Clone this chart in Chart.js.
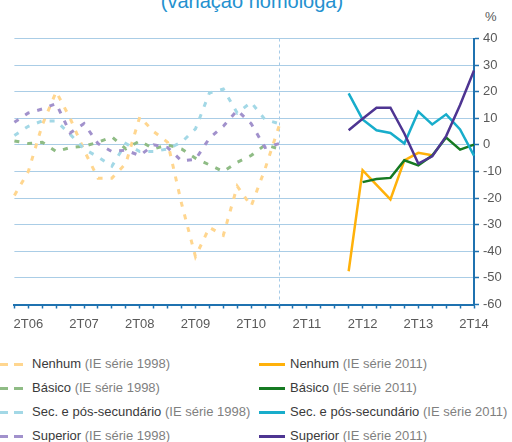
<!DOCTYPE html>
<html><head><meta charset="utf-8">
<script src="https://cdn.jsdelivr.net/npm/chart.js@4.4.1/dist/chart.umd.min.js"></script>
<style>
html,body{margin:0;padding:0;background:#fff;}
body{width:512px;height:442px;position:relative;overflow:hidden;font-family:'Liberation Sans',Arial,sans-serif;}
#title{position:absolute;left:0;width:504px;text-align:center;top:-9px;font-size:20px;line-height:20px;color:#2491CF;white-space:nowrap;}
#pct{position:absolute;left:485px;top:9px;font-size:13px;line-height:15px;color:#595959;}
#wrap{position:absolute;left:0;top:0;width:512px;height:330px;}
.item{position:absolute;height:16px;font-size:13px;line-height:16px;white-space:nowrap;}
.item svg{position:absolute;left:0;top:0;}
.item .t{position:absolute;top:0;}
.main{color:#3a3a3a}.sub{color:#7f7f7f}
</style></head>
<body>
<div id="title">(variação homóloga)</div>
<div id="pct">%</div>
<div id="wrap"><canvas id="c" width="512" height="330"></canvas></div>
<div id="legend"></div>
<script>
// ---- data ----
const quarters = ['1T06','2T06','3T06','4T06','1T07','2T07','3T07','4T07','1T08','2T08','3T08','4T08',
  '1T09','2T09','3T09','4T09','1T10','2T10','3T10','4T10','1T11','2T11','3T11','4T11',
  '1T12','2T12','3T12','4T12','1T13','2T13','3T13','4T13','1T14','2T14'];
const shownLabels = ['2T06','2T07','2T08','2T09','2T10','2T11','2T12','2T13','2T14'];
const dividerAt = '4T10';
const yTicks = [40,30,20,10,0,-10,-20,-30,-40,-50,-60];

// série 1998: 1T06 .. 4T10
const nenhum98   = [-19,-10,7.5,20,10,-2,-12.5,-12.5,-7,10.5,5,1,-22,-42,-31,-34,-15.5,-23,-9,7];
const basico98   = [1.5,0.5,1,-2.5,-1,-0.5,1,3,-1.5,1.5,-1.5,0,-1.5,-5,-7.5,-10,-6.5,-4,0,-1.5];
const sec98      = [3.5,7,9,9,4,-1.5,-4.5,-8,0.5,-2.5,-2.5,-1.5,1,6,19.5,21,12,16,9.5,8];
const superior98 = [8.5,12,13.5,15.5,4.5,8,0.5,-2.5,-2,-4,0,-1,-6,-5.5,2.5,7,13,8,-1,0.5];
// série 2011: 1T12 .. 2T14
const nenhum11   = [-47.5,-9.5,-15,-20.5,-5.8,-3,-3.9];
const basico11   = [null,-14,-12.8,-12.4,-5.8,-7.7,-4,2.8,-1.8,0.1];
const sec11      = [19.4,9.6,5.5,4.5,0.5,12.5,7.7,11.5,5.8,-4];
const superior11 = [5.5,9.8,14,14,4.3,-7,-4.3,3.3,15,28];

const names = ['Nenhum','Básico','Sec. e pós-secundário','Superior'];
const colors98 = ['#FFD68F','#8FBC85','#A3D8E6','#A191CC'];
const colors11 = ['#FFB10A','#167A22','#18ADCB','#4E3592'];

const start11 = quarters.indexOf('1T12');
const pad98 = a => a.concat(Array(quarters.length - a.length).fill(null));
const pad11 = a => Array(start11).fill(null).concat(a);
const s98 = [nenhum98, basico98, sec98, superior98];
const s11 = [nenhum11, basico11, sec11, superior11];

const FONT = "'Liberation Sans', Arial, sans-serif";
const AXIS = '#1F72B0';
const datasets = [];
for (let i = 3; i >= 0; i--) {
  datasets.push({label: names[i]+' (IE série 2011)', data: pad11(s11[i]), borderColor: colors11[i],
    borderWidth: 2.5, pointRadius: 0, tension: 0, fill: false, spanGaps: false, order: 3 - i});
}
for (let i = 3; i >= 0; i--) {
  datasets.push({label: names[i]+' (IE série 1998)', data: pad98(s98[i]), borderColor: colors98[i],
    borderWidth: 3, borderDash: [5,8], borderCapStyle: 'butt', pointRadius: 0, tension: 0, fill: false, order: 10 + 3 - i});
}

const divider = {
  id: 'divider',
  beforeDatasetsDraw(chart) {
    const {ctx, chartArea, scales: {x}} = chart;
    const px = Math.round(x.getPixelForValue(quarters.indexOf(dividerAt))) + 0.5;
    ctx.save();
    ctx.strokeStyle = '#A6CBE8'; ctx.lineWidth = 1; ctx.setLineDash([3,3]);
    ctx.beginPath(); ctx.moveTo(px, chartArea.top); ctx.lineTo(px, chartArea.bottom); ctx.stroke();
    ctx.restore();
  }
};

new Chart(document.getElementById('c'), {
  type: 'line',
  data: {labels: quarters, datasets},
  options: {
    responsive: false, animation: false, devicePixelRatio: 1,
    layout: {padding: {left: 14.4, top: 38.5, right: 0, bottom: 0}},
    plugins: {legend: {display: false}, tooltip: {enabled: false}, title: {display: false}},
    scales: {
      x: {
        type: 'category', offset: false,
        grid: {display: true, drawOnChartArea: false, drawTicks: true, tickLength: 4, tickColor: AXIS, tickWidth: 1.5, offset: false},
        border: {display: true, color: AXIS, width: 2},
        ticks: {autoSkip: false, maxRotation: 0, minRotation: 0, padding: 8, color: '#595959',
          font: {size: 13, family: FONT},
          callback: (v, i) => shownLabels.includes(quarters[i]) ? quarters[i] : ''},
        afterFit(s) { s.height = 25.5; }
      },
      y: {
        position: 'right', min: yTicks[yTicks.length-1], max: yTicks[0],
        afterBuildTicks(s) { s.ticks = yTicks.map(v => ({value: v})); },
        ticks: {color: '#595959', font: {size: 13, family: FONT}, padding: 4},
        grid: {color: '#AACDE6', lineWidth: 1, tickColor: AXIS, tickLength: 5, tickWidth: 1.5},
        border: {display: true, color: AXIS, width: 2},
        afterFit(s) { s.width = 38; }
      }
    }
  },
  plugins: [divider]
});

// ---- legend ----
const leg = document.getElementById('legend');
const rowTops = [356, 380, 404, 428];
names.forEach((nm, i) => {
  [[0, colors98[i], '1998', true], [259, colors11[i], '2011', false]].forEach(([left, col, yr, dashed]) => {
    const d = document.createElement('div');
    d.className = 'item';
    d.style.left = left + 'px'; d.style.top = rowTops[i] + 'px'; d.style.width = '260px';
    d.innerHTML = '<svg width="28" height="16"><line x1="' + (dashed ? -1 : 0) + '" y1="8.5" x2="26" y2="8.5" stroke="' + col +
      '" stroke-width="3"' + (dashed ? ' stroke-dasharray="9 6"' : '') + '/></svg>' +
      '<span class="t" style="left:' + (dashed ? 32 : 31) + 'px"><span class="main">' + nm + '</span> <span class="sub">(IE série ' + yr + ')</span></span>';
    leg.appendChild(d);
  });
});
</script>
</body></html>
